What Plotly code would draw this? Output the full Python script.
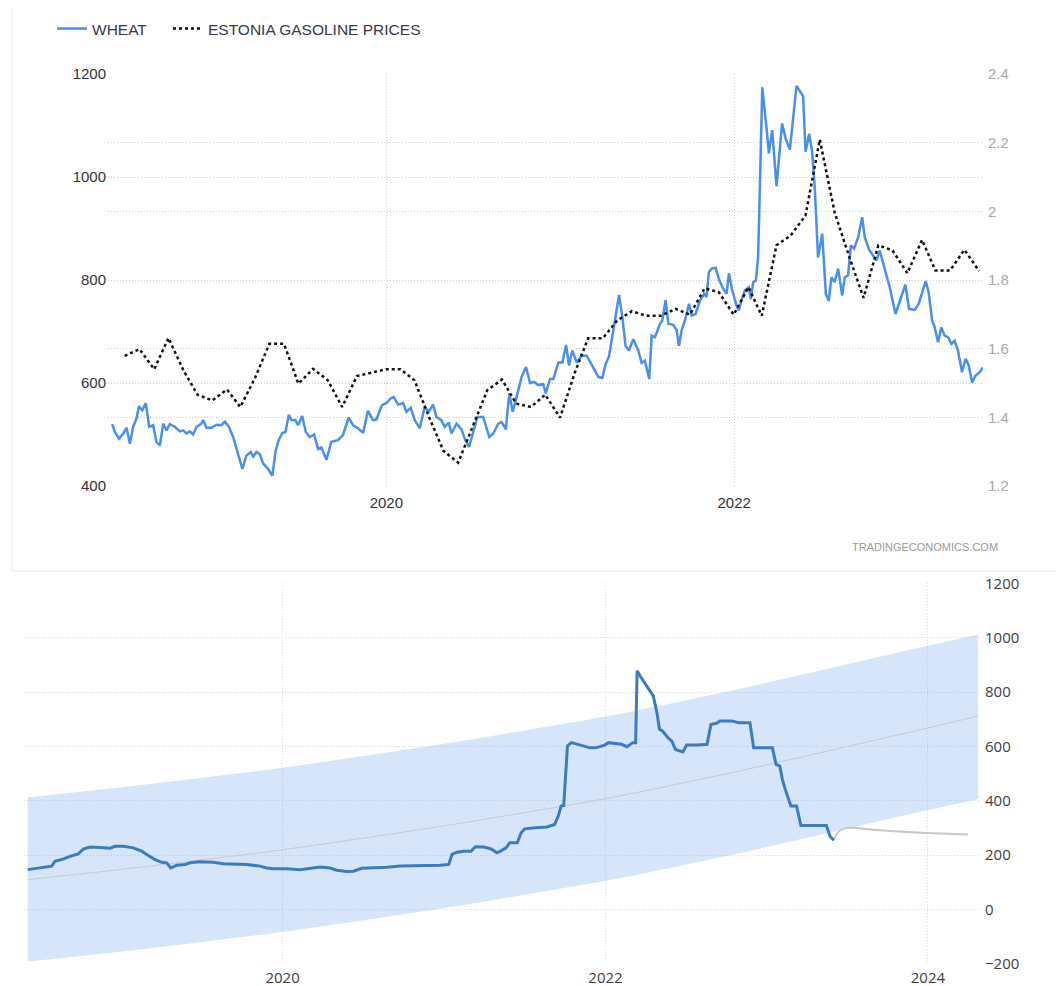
import plotly.graph_objects as go
from datetime import datetime
import pandas as pd

# ---------------- data (top chart) ----------------
wheat_years = [
    2018.421, 2018.437, 2018.460, 2018.485, 2018.504, 2018.523, 2018.542, 2018.561, 2018.575, 2018.594,
    2018.615, 2018.634, 2018.657, 2018.676, 2018.696, 2018.715, 2018.734, 2018.753, 2018.782, 2018.811,
    2018.830, 2018.849, 2018.868, 2018.887, 2018.907, 2018.935, 2018.945, 2018.964, 2018.993, 2019.022,
    2019.050, 2019.070, 2019.093, 2019.118, 2019.146, 2019.171, 2019.194, 2019.219, 2019.233, 2019.252,
    2019.271, 2019.290, 2019.319, 2019.344, 2019.361, 2019.380, 2019.400, 2019.419, 2019.438, 2019.453,
    2019.476, 2019.492, 2019.515, 2019.536, 2019.559, 2019.584, 2019.607, 2019.626, 2019.655, 2019.683,
    2019.722, 2019.750, 2019.783, 2019.808, 2019.837, 2019.866, 2019.894, 2019.923, 2019.942, 2019.975,
    2020.000, 2020.025, 2020.042, 2020.067, 2020.096, 2020.115, 2020.140, 2020.163, 2020.192, 2020.220,
    2020.243, 2020.268, 2020.288, 2020.316, 2020.335, 2020.358, 2020.374, 2020.403, 2020.431, 2020.454,
    2020.475, 2020.498, 2020.523, 2020.556, 2020.591, 2020.614, 2020.642, 2020.662, 2020.686, 2020.706,
    2020.725, 2020.748, 2020.777, 2020.802, 2020.825, 2020.849, 2020.872, 2020.901, 2020.915, 2020.940,
    2020.959, 2020.988, 2021.011, 2021.032, 2021.049, 2021.068, 2021.093, 2021.122, 2021.151, 2021.189,
    2021.218, 2021.241, 2021.260, 2021.279, 2021.304, 2021.319, 2021.337, 2021.356, 2021.375, 2021.394,
    2021.419, 2021.448, 2021.467, 2021.486, 2021.511, 2021.525, 2021.544, 2021.573, 2021.586, 2021.605,
    2021.621, 2021.649, 2021.669, 2021.682, 2021.697, 2021.716, 2021.740, 2021.755, 2021.778, 2021.803,
    2021.828, 2021.841, 2021.854, 2021.870, 2021.893, 2021.912, 2021.937, 2021.956, 2021.970, 2021.989,
    2022.014, 2022.027, 2022.042, 2022.062, 2022.085, 2022.096, 2022.110, 2022.125, 2022.138, 2022.162,
    2022.186, 2022.200, 2022.219, 2022.244, 2022.276, 2022.296, 2022.321, 2022.359, 2022.397, 2022.411,
    2022.432, 2022.449, 2022.464, 2022.483, 2022.507, 2022.528, 2022.545, 2022.560, 2022.579, 2022.599,
    2022.622, 2022.637, 2022.656, 2022.672, 2022.691, 2022.714, 2022.737, 2022.752, 2022.777, 2022.800,
    2022.819, 2022.838, 2022.867, 2022.896, 2022.929, 2022.953, 2022.986, 2023.007, 2023.040, 2023.063,
    2023.103, 2023.120, 2023.140, 2023.155, 2023.174, 2023.193, 2023.212, 2023.232, 2023.251, 2023.270,
    2023.289, 2023.312, 2023.333, 2023.351, 2023.370, 2023.389, 2023.414, 2023.433,
]
wheat_values = [
    520, 505, 492, 502, 513, 482, 515, 531, 555, 547,
    561, 515, 518, 485, 479, 521, 508, 520, 515, 506,
    508, 502, 506, 500, 515, 521, 528, 513, 513, 519,
    518, 525, 515, 495, 462, 433, 459, 466, 457, 466,
    462, 444, 433, 420, 466, 489, 503, 505, 538, 528,
    528, 518, 536, 505, 495, 500, 472, 475, 451, 486,
    489, 499, 533, 518, 512, 503, 546, 528, 529, 557,
    561, 570, 573, 558, 561, 544, 552, 528, 512, 554,
    544, 558, 534, 528, 515, 523, 502, 521, 510, 489,
    476, 502, 534, 534, 495, 502, 521, 524, 510, 580,
    544, 573, 612, 631, 600, 602, 596, 598, 580, 608,
    608, 640, 640, 674, 634, 663, 640, 653, 653, 630,
    612, 610, 637, 651, 708, 733, 771, 728, 672, 663,
    685, 663, 639, 643, 608, 692, 689, 715, 721, 761,
    715, 713, 703, 672, 702, 721, 754, 731, 734, 760,
    773, 767, 815, 822, 824, 802, 783, 773, 813, 780,
    750, 741, 760, 780, 786, 763, 796, 799, 844, 1174,
    1097, 1046, 1091, 982, 1104, 1075, 1053, 1177, 1157, 1049,
    1084, 1049, 981, 844, 890, 773, 759, 805, 796, 822,
    770, 805, 809, 867, 861, 883, 922, 883, 859, 848,
    838, 857, 822, 786, 734, 760, 791, 744, 742, 754,
    798, 776, 721, 708, 679, 708, 692, 689, 676, 682,
    663, 621, 647, 634, 601, 614, 621, 630,
]
# monthly, June 2018 .. May 2023
gas_start_month = "2018-07-01"
gas_values = [
    1.579, 1.599, 1.540, 1.631, 1.538, 1.466, 1.449, 1.481, 1.430, 1.515,
    1.614, 1.614, 1.498, 1.541, 1.508, 1.430, 1.520, 1.530, 1.540, 1.540,
    1.508, 1.400, 1.302, 1.268, 1.370, 1.479, 1.510, 1.440, 1.430, 1.466,
    1.399, 1.530, 1.630, 1.630, 1.682, 1.709, 1.696, 1.696, 1.716, 1.699,
    1.776, 1.764, 1.699, 1.779, 1.696, 1.901, 1.930, 1.988, 2.209, 1.998,
    1.867, 1.748, 1.901, 1.886, 1.820, 1.917, 1.828, 1.828, 1.888, 1.826,
]
wheat_ticks = [400, 600, 800, 1000, 1200]
gas_ticks = [1.2, 1.4, 1.6, 1.8, 2.0, 2.2, 2.4]
gas_ticktext = ["1.2", "1.4", "1.6", "1.8", "2", "2.2", "2.4"]

# ---------------- data (bottom chart) ----------------
hist_years = [
    2018.419, 2018.475, 2018.516, 2018.568, 2018.588, 2018.630, 2018.681, 2018.733, 2018.764, 2018.805,
    2018.868, 2018.930, 2018.961, 2019.012, 2019.074, 2019.126, 2019.167, 2019.209, 2019.250, 2019.281,
    2019.306, 2019.343, 2019.395, 2019.426, 2019.488, 2019.570, 2019.632, 2019.694, 2019.777, 2019.860,
    2019.901, 2019.942, 2020.025, 2020.108, 2020.170, 2020.232, 2020.294, 2020.335, 2020.397, 2020.438,
    2020.490, 2020.562, 2020.645, 2020.728, 2020.810, 2020.893, 2020.975, 2021.028, 2021.048, 2021.079,
    2021.121, 2021.166, 2021.193, 2021.245, 2021.291, 2021.326, 2021.349, 2021.383, 2021.406, 2021.453,
    2021.476, 2021.499, 2021.568, 2021.637, 2021.684, 2021.707, 2021.725, 2021.741, 2021.764, 2021.788,
    2021.845, 2021.903, 2021.938, 2021.995, 2022.018, 2022.099, 2022.134, 2022.169, 2022.187, 2022.196,
    2022.215, 2022.249, 2022.296, 2022.319, 2022.335, 2022.353, 2022.388, 2022.411, 2022.434, 2022.480,
    2022.503, 2022.573, 2022.630, 2022.654, 2022.688, 2022.711, 2022.781, 2022.827, 2022.896, 2022.919,
    2023.035, 2023.058, 2023.081, 2023.097, 2023.115, 2023.150, 2023.185, 2023.212, 2023.370, 2023.393,
    2023.416,
]
hist_values = [
    147, 152, 156, 160, 178, 184, 196, 205, 223, 230,
    228, 226, 233, 233, 227, 215, 199, 184, 174, 172,
    153, 163, 166, 172, 176, 174, 169, 168, 166, 160,
    153, 150, 150, 147, 153, 157, 153, 145, 140, 141,
    152, 153, 156, 160, 160, 162, 163, 166, 203, 211,
    215, 215, 231, 230, 223, 209, 215, 227, 246, 246,
    282, 297, 301, 304, 313, 344, 381, 383, 602, 614,
    605, 595, 595, 605, 614, 608, 599, 614, 614, 878,
    859, 829, 786, 724, 663, 657, 632, 620, 589, 580,
    605, 605, 608, 681, 685, 694, 694, 687, 687, 595,
    595, 534, 528, 479, 442, 381, 381, 309, 309, 270,
    255,
]
fc_years = [2023.416, 2023.439, 2023.473, 2023.531, 2023.600, 2023.762, 2023.993, 2024.247]
fc_values = [255, 282, 297, 301, 297, 289, 282, 276]

band_years = [2018.419, 2019.0, 2019.5, 2020.0, 2020.5, 2021.0, 2021.5, 2022.0, 2022.5, 2023.0, 2023.5, 2024.0, 2024.31]
band_mid = [110, 148, 183, 220, 263, 308, 357, 408, 468, 532, 600, 668, 712]
band_upper = [413, 450, 485, 522, 565, 610, 659, 710, 770, 834, 902, 970, 1012]
band_lower = [-191, -154, -119, -82, -39, 6, 55, 106, 166, 230, 298, 366, 407]
bottom_ticks = [-200, 0, 200, 400, 600, 800, 1000, 1200]


def yr(y):
    year = int(y)
    start = datetime(year, 1, 1)
    end = datetime(year + 1, 1, 1)
    return start + (end - start) * (y - year)


gas_dates = pd.date_range(gas_start_month, periods=len(gas_values), freq="MS") - pd.Timedelta(days=1)

W, H = 1064, 986
OFF = 8  # page body margin in the browser

def fx(px):
    return (px - OFF) / W

def fy(py):
    return 1 - (py - OFF) / H

fig = go.Figure()

# bottom band
fig.add_trace(go.Scatter(x=[yr(v) for v in band_years], y=band_lower, xaxis="x2", yaxis="y3",
                         mode="lines", line=dict(width=0, shape="spline"), showlegend=False, hoverinfo="skip"))
fig.add_trace(go.Scatter(x=[yr(v) for v in band_years], y=band_upper, xaxis="x2", yaxis="y3",
                         mode="lines", line=dict(width=0, shape="spline"), fill="tonexty",
                         fillcolor="rgba(120,170,235,0.30)", showlegend=False, hoverinfo="skip"))
fig.add_trace(go.Scatter(x=[yr(v) for v in band_years], y=band_mid, xaxis="x2", yaxis="y3",
                         mode="lines", line=dict(width=1, color="#c3cad6", shape="spline"), showlegend=False))
fig.add_trace(go.Scatter(x=[yr(v) for v in fc_years], y=fc_values, xaxis="x2", yaxis="y3",
                         mode="lines", line=dict(width=2, color="#c8c8c8", shape="spline"), showlegend=False))
fig.add_trace(go.Scatter(x=[yr(v) for v in hist_years], y=hist_values, xaxis="x2", yaxis="y3",
                         mode="lines", line=dict(width=3, color="#3d7bbf"), showlegend=False))

# top chart
fig.add_trace(go.Scatter(x=[yr(v) for v in wheat_years], y=wheat_values, xaxis="x", yaxis="y",
                         mode="lines", name="WHEAT", legendwidth=71,
                         line=dict(color="#4a8fe8", width=2.5)))
fig.add_trace(go.Scatter(x=gas_dates, y=gas_values, xaxis="x", yaxis="y2",
                         mode="lines", name="ESTONIA GASOLINE PRICES", legendwidth=240,
                         line=dict(color="#111111", width=2.5, dash="dot")))

grid = "#cfcfcf"
gdash = "1px,2px"
fig.update_layout(
    width=W, height=H, margin=dict(l=0, r=0, t=0, b=0, autoexpand=False),
    paper_bgcolor="white", plot_bgcolor="rgba(0,0,0,0)",
    font=dict(family="Liberation Sans, Arial, sans-serif", size=15, color="#333"),
    showlegend=True,
    legend=dict(orientation="h", x=fx(52), y=fy(12), xanchor="left", yanchor="top",
                font=dict(size=15.5, color="#3a3848"), itemwidth=30,
                bgcolor="rgba(0,0,0,0)", traceorder="normal"),
    xaxis=dict(domain=[fx(108), fx(983)], anchor="y", type="date", automargin=False,
               range=[yr(2018.397), yr(2023.433)],
               tickvals=[datetime(2020, 1, 1), datetime(2022, 1, 1)], ticktext=["2020", "2022"],
               showgrid=True, gridcolor=grid, griddash=gdash, gridwidth=1,
               zeroline=False, showline=False, ticks="", ticklabelstandoff=6,
               tickfont=dict(size=15, color="#333")),
    yaxis=dict(domain=[fy(486), fy(74)], anchor="x", range=[400, 1200], tickvals=wheat_ticks,
               automargin=False,
               showgrid=True, gridcolor=grid, griddash=gdash, zeroline=False, showline=False,
               ticks="", ticklabelstandoff=1, tickfont=dict(size=15, color="#333")),
    yaxis2=dict(overlaying="y", anchor="x", side="right", range=[1.2, 2.4], tickvals=gas_ticks,
                automargin=False,
                ticktext=gas_ticktext, showgrid=True, gridcolor=grid, griddash=gdash,
                zeroline=False, showline=False, ticks="", ticklabelstandoff=4,
                tickfont=dict(size=15, color="#a9a9a9")),
    xaxis2=dict(domain=[fx(24), fx(980)], anchor="y3", type="date", automargin=False,
                range=[yr(2018.396), yr(2024.322)],
                tickvals=[datetime(2020, 1, 1), datetime(2022, 1, 1), datetime(2024, 1, 1)],
                ticktext=["2020", "2022", "2024"],
                showgrid=True, gridcolor="#dcdcdc", griddash=gdash, zeroline=False, showline=False,
                ticks="", ticklabelstandoff=3,
                tickfont=dict(family="Open Sans, sans-serif", size=15, color="#404040")),
    yaxis3=dict(domain=[fy(964), fy(583.3)], anchor="x2", side="right", range=[-200, 1200],
                automargin=False,
                tickvals=bottom_ticks, showgrid=True, gridcolor="#d6d6d6", griddash=gdash,
                zeroline=False, showline=False, ticks="", ticklabelstandoff=4,
                tickfont=dict(family="Open Sans, sans-serif", size=15, color="#404040")),
    shapes=[
        dict(type="line", xref="paper", yref="paper", x0=fx(12), x1=fx(12), y0=fy(8), y1=fy(571),
             line=dict(color="#ececec", width=1)),
        dict(type="line", xref="paper", yref="paper", x0=fx(12), x1=1, y0=fy(571), y1=fy(571),
             line=dict(color="#ececec", width=1)),
    ],
    annotations=[
        dict(text="TRADINGECONOMICS.COM", xref="paper", yref="paper", x=fx(1000), y=fy(547),
             xanchor="right", yanchor="middle", showarrow=False,
             font=dict(size=11, color="#9a9a9a", family="Liberation Sans, Arial, sans-serif")),
    ],
)

fig.write_html("out.html")
